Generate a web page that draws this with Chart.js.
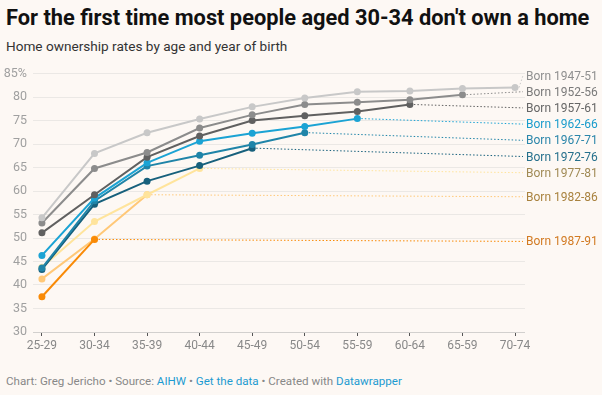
<!DOCTYPE html>
<html>
<head>
<meta charset="utf-8">
<script src="https://cdn.jsdelivr.net/npm/chart.js@4.4.0/dist/chart.umd.min.js"></script>
<style>
  body { margin: 0; background: #fdf8f4; font-family: Roboto, sans-serif; width: 602px; height: 395px; overflow: hidden; position: relative; }
  h1 { position: absolute; left: 6px; top: 5px; margin: 0; font-size: 21.8px; font-weight: 700; color: #111; white-space: nowrap; }
  .sub { position: absolute; left: 6px; top: 38px; font-size: 13.6px; color: #333; }
  #wrap { position: absolute; left: 0; top: 60px; }
  .foot { position: absolute; left: 6px; top: 374px; font-size: 11.6px; color: #888; }
  .foot a { color: #1d9bd1; text-decoration: none; }
</style>
</head>
<body>
<h1>For the first time most people aged 30-34 don't own a home</h1>
<div class="sub">Home ownership rates by age and year of birth</div>
<div id="wrap"><canvas id="homeChart" width="602" height="300"></canvas></div>
<div class="foot">Chart: Greg Jericho • Source: <a>AIHW</a> • <a>Get the data</a> • Created with <a>Datawrapper</a></div>

<script>
const ageGroups = ['25-29', '30-34', '35-39', '40-44', '45-49', '50-54', '55-59', '60-64', '65-59', '70-74'];
const yTicks = [30, 35, 40, 45, 50, 55, 60, 65, 70, 75, 80, 85];

const cohorts = ['Born 1947-51', 'Born 1952-56', 'Born 1957-61', 'Born 1962-66', 'Born 1967-71',
  'Born 1972-76', 'Born 1977-81', 'Born 1982-86', 'Born 1987-91'];

const born4751 = [54.3, 68.0, 72.4, 75.3, 77.9, 79.8, 81.1, 81.3, 81.8, 82.0];
const born5256 = [53.2, 64.8, 68.2, 73.4, 76.2, 78.4, 78.9, 79.4, 80.5];
const born5761 = [51.1, 59.2, 67.2, 71.7, 75.0, 76.0, 76.9, 78.4];
const born6266 = [46.3, 58.5, 66.0, 70.6, 72.3, 73.7, 75.4];
const born6771 = [43.6, 57.9, 65.3, 67.6, 69.9, 72.4];
const born7276 = [43.3, 57.2, 62.1, 65.4, 69.1];
const born7781 = [43.8, 53.5, 59.2, 64.8];
const born8286 = [41.3, 49.8, 59.2];
const born8791 = [37.5, 49.7];

const seriesValues = [born4751, born5256, born5761, born6266, born6771, born7276, born7781, born8286, born8791];
const lineColors = ['#c8c8c8', '#8c8c8c', '#606060', '#1ba3d4', '#1f84a8', '#17607c', '#ffe49c', '#ffc878', '#f98a06'];
const textColors = ['#8f8f8f', '#7a7a7a', '#666666', '#1a9ccc', '#2b86aa', '#26708c', '#a08a55', '#a9823e', '#d27a22'];

// draws the dotted leader lines and "Born ..." labels right of the plot
const endLabels = {
  id: 'endLabels',
  afterDatasetsDraw(chart) {
    const { ctx, chartArea, scales: { x, y } } = chart;
    const items = chart.data.datasets.map((ds, i) => {
      const last = ds.data[ds.data.length - 1];
      const py = y.getPixelForValue(last.y);
      return { i, px: x.getPixelForValue(last.x), py, ly: py };
    });
    items.sort((a, b) => a.ly - b.ly);
    const gap = 16.2;
    for (let k = 0; k < 300; k++) {
      for (let j = 1; j < items.length; j++) {
        const d = items[j].ly - items[j - 1].ly;
        if (d < gap) {
          const o = (gap - d) / 2;
          items[j - 1].ly -= o;
          items[j].ly += o;
        }
      }
    }
    ctx.save();
    items.forEach(it => {
      const ly = it.ly + 2;
      ctx.strokeStyle = lineColors[it.i];
      ctx.lineWidth = 1;
      ctx.setLineDash([1.5, 2]);
      ctx.beginPath();
      ctx.moveTo(it.px + 4, it.py);
      ctx.lineTo(chartArea.right - 2, ly);
      ctx.stroke();
      ctx.setLineDash([]);
      ctx.fillStyle = textColors[it.i];
      ctx.font = '12px Roboto';
      ctx.textBaseline = 'middle';
      ctx.textAlign = 'left';
      ctx.fillText(cohorts[it.i], chartArea.right + 1, ly + 1);
    });
    ctx.restore();
  }
};

const datasets = seriesValues.map((vals, i) => ({
  label: cohorts[i],
  data: vals.map((v, j) => ({ x: j, y: v })),
  borderColor: lineColors[i],
  backgroundColor: lineColors[i],
  borderWidth: 2,
  pointRadius: 3.5,
  pointBorderWidth: 0,
  tension: 0,
  order: i === 8 ? -1 : 0
}));

new Chart(document.getElementById('homeChart').getContext('2d'), {
  type: 'line',
  data: { datasets },
  plugins: [endLabels],
  options: {
    responsive: false,
    animation: false,
    layout: { padding: { top: 12, right: 77, left: 0, bottom: 0 } },
    plugins: { legend: { display: false }, tooltip: { enabled: false } },
    scales: {
      x: {
        type: 'linear',
        min: -0.17,
        max: 9.19,
        afterBuildTicks: s => { s.ticks = ageGroups.map((c, i) => ({ value: i })); },
        afterFit: s => { s.height = 28; },
        ticks: {
          callback: v => ageGroups[v],
          color: '#888',
          font: { family: 'Roboto', size: 12 },
          padding: 3,
          maxRotation: 0,
          autoSkip: false
        },
        grid: { drawOnChartArea: false, color: '#555', tickLength: 4 },
        border: { display: false }
      },
      y: {
        min: 30,
        max: 85,
        afterBuildTicks: s => { s.ticks = yTicks.map(v => ({ value: v })); },
        afterFit: s => { s.width = 33; },
        ticks: {
          callback: v => v === 85 ? '85%' : v,
          color: '#a0a0a0',
          font: { family: 'Roboto', size: 12.5 },
          padding: 6
        },
        grid: {
          color: c => c.tick && c.tick.value === 30 ? '#d2d0ce' : '#ebe8e5',
          drawTicks: false
        },
        border: { display: false }
      }
    }
  }
});
</script>
</body>
</html>
